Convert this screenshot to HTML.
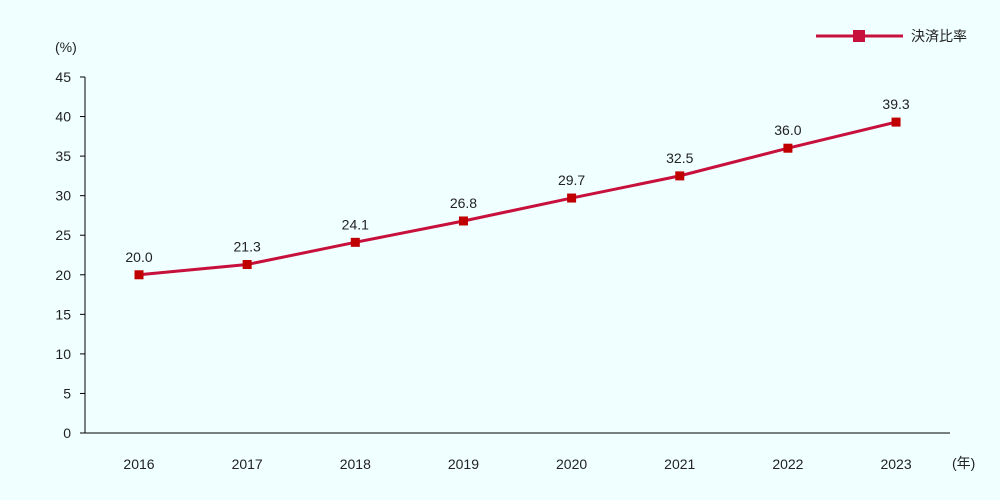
<!DOCTYPE html>
<html><head><meta charset="utf-8"><style>
body{margin:0;background:#f0ffff;}
svg{display:block;font-family:"Liberation Sans","Noto Sans CJK JP",sans-serif;}
</style></head><body>
<svg id="chart" width="1000" height="500" viewBox="0 0 1000 500">
<rect width="1000" height="500" fill="#f0ffff"/>
<text x="55" y="52" font-size="14" fill="#222">(%)</text>
<text x="952" y="468" font-size="14" fill="#222">(年)</text>
<g>
<line x1="816" y1="36" x2="903" y2="36" stroke="#c8103c" stroke-width="3"/>
<rect x="853" y="30" width="12" height="12" fill="#c8103c"/>
<text x="911" y="41" font-size="14" fill="#222">決済比率</text>
</g>
<g id="axes"></g>
<g id="series"></g>
</svg>
<script>
const categories=["2016","2017","2018","2019","2020","2021","2022","2023"];
const values=[20.0,21.3,24.1,26.8,29.7,32.5,36.0,39.3];
const yTicks=[0,5,10,15,20,25,30,35,40,45];
const ns="http://www.w3.org/2000/svg";
const x0=139,xStep=108.15,yBase=433,yTop=77,yMax=45;
const xs=i=>x0+i*xStep;
const ys=v=>yBase-(v/yMax)*(yBase-yTop);
function mk(t,a,p){const e=document.createElementNS(ns,t);for(const k in a)e.setAttribute(k,a[k]);p.appendChild(e);return e;}
const ax=document.getElementById('axes'),se=document.getElementById('series');
let e=mk('line',{x1:85,y1:yTop,x2:85,y2:yBase,stroke:'#000','stroke-width':1},ax);


e=mk('line',{x1:85,y1:yBase,x2:950,y2:yBase,stroke:'#000','stroke-width':1},ax);


yTicks.forEach(t=>{
 const y=ys(t);
 let l=mk('line',{x1:80,y1:y,x2:85,y2:y,stroke:'#000'},ax);
 
 
 let tx=mk('text',{x:71,y:y+5,'font-size':14,'text-anchor':'end',fill:'#222'},ax);
 tx.textContent=t;
 
 
});
categories.forEach((c,i)=>{
 let tx=mk('text',{x:xs(i),y:469,'font-size':14,'text-anchor':'middle',fill:'#222'},ax);
 tx.textContent=c;
 
 
});
const pl=mk('polyline',{points:values.map((v,i)=>xs(i)+','+ys(v)).join(' '),fill:'none',stroke:'#c8103c','stroke-width':3},se);


values.forEach((v,i)=>{
 let r=mk('rect',{x:xs(i)-4.5,y:ys(v)-4.5,width:9,height:9,fill:'#c00000'},se);
 
 
 let tx=mk('text',{x:xs(i),y:ys(v)-13,'font-size':14,'text-anchor':'middle',fill:'#222'},se);
 tx.textContent=v.toFixed(1);
 
 
});
</script>
</body></html>
